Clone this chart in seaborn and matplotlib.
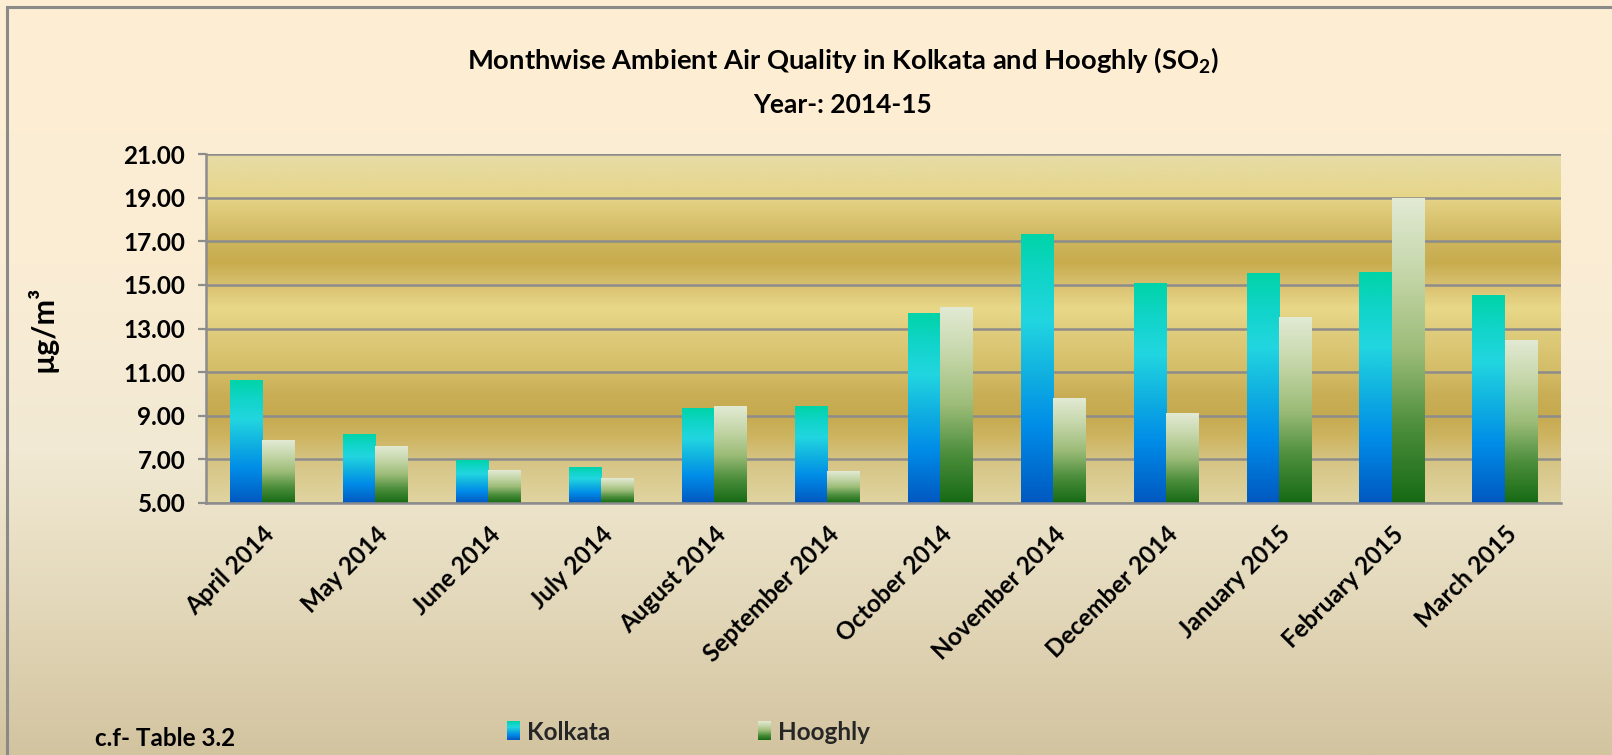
import numpy as np
import pandas as pd
import matplotlib
matplotlib.use("Agg")
import matplotlib.pyplot as plt
import seaborn as sns
from matplotlib.colors import LinearSegmentedColormap
from matplotlib.legend_handler import HandlerBase
from matplotlib.image import BboxImage
from matplotlib.transforms import Bbox, TransformedBbox
from matplotlib.patches import Rectangle, Patch

# ---------------- data ----------------
months = ["April 2014", "May 2014", "June 2014", "July 2014", "August 2014",
          "September 2014", "October 2014", "November 2014", "December 2014",
          "January 2015", "February 2015", "March 2015"]
kolkata = [10.62, 8.13, 6.94, 6.62, 9.32, 9.41, 13.67, 17.29, 15.05, 15.50, 15.55, 14.50]
hooghly = [7.85, 7.58, 6.48, 6.11, 9.41, 6.44, 13.95, 9.78, 9.09, 13.49, 18.94, 12.44]
series = ["Kolkata", "Hooghly"]
yticks = [5, 7, 9, 11, 13, 15, 17, 19, 21]
title = "Monthwise Ambient Air Quality in Kolkata and Hooghly (SO$_2$)"
subtitle = "Year-: 2014-15"
ylabel = "\u00b5g/m\u00b3"
note = "c.f- Table 3.2"

# ---------------- style ----------------
sns.set_theme(style="white")
plt.rcParams['font.family'] = ['Lato', 'DejaVu Sans']
plt.rcParams['font.weight'] = 'bold'
plt.rcParams['mathtext.fontset'] = 'custom'
plt.rcParams['mathtext.rm'] = 'Lato:bold'
plt.rcParams['mathtext.it'] = 'Lato:bold'
plt.rcParams['mathtext.bf'] = 'Lato:bold'

W, H = 1612, 755
fig = plt.figure(figsize=(W / 100, H / 100), dpi=100)

# figure background gradient
fig_cmap = LinearSegmentedColormap.from_list("figbg", [
    (0.0, "#D3C4A0"), (0.2, "#E3D8BA"), (0.4, "#F1E9D3"), (0.65, "#FBEDD5"), (1.0, "#FDEED3")])
bg = fig.add_axes([0, 0, 1, 1], zorder=-10)
bg.imshow(np.linspace(0, 1, 256).reshape(-1, 1), cmap=fig_cmap, aspect='auto',
          extent=[0, 1, 0, 1], origin='lower')
bg.set_xlim(0, 1); bg.set_ylim(0, 1)
bg.axis('off')
# chart border (top and left edges visible)
bg.add_patch(Rectangle((7 / W, -0.2), 1.5, 1.2 - 7 / H, fill=False,
                       edgecolor="#8A8A8A", lw=2.2, transform=bg.transAxes, clip_on=False))

# plot area
x0, x1, y0, y1 = 206, 1561, 154, 503
ax = fig.add_axes([x0 / W, 1 - y1 / H, (x1 - x0) / W, (y1 - y0) / H])

plot_cmap = LinearSegmentedColormap.from_list("plotbg", [
    (0.0, "#E0D4A0"), (0.12, "#D6C484"), (0.19, "#CDB460"), (0.25, "#C6AA50"),
    (0.31, "#C9AE55"), (0.375, "#D4BC66"), (0.5, "#E0CE7E"), (0.56, "#E8D888"),
    (0.625, "#D8C070"), (0.69, "#C8AC4E"), (0.75, "#CDB45C"), (0.86, "#E2CF80"),
    (0.88, "#E6D68A"), (1.0, "#E6DCA6")])
ax.imshow(np.linspace(0, 1, 512).reshape(-1, 1), cmap=plot_cmap, aspect='auto',
          extent=[0, 1, 0, 1], origin='lower', transform=ax.transAxes, zorder=0.1)

df = pd.DataFrame({
    "Month": months * 2,
    "City": [series[0]] * len(months) + [series[1]] * len(months),
    "Value": kolkata + hooghly,
})
sns.barplot(data=df, x="Month", y="Value", hue="City", order=months, hue_order=series,
            width=0.57, gap=0, ax=ax, legend=False, saturation=1,
            palette=["#18C8E0", "#9ABE78"], errorbar=None)

k_cmap = LinearSegmentedColormap.from_list("kol", [
    (0.0, "#0058C0"), (0.28, "#008CE8"), (0.5, "#12B4E0"), (0.68, "#22D6E0"),
    (0.85, "#10D4C8"), (1.0, "#00D4A8")])
h_cmap = LinearSegmentedColormap.from_list("hoo", [
    (0.0, "#166A14"), (0.25, "#4C8E3C"), (0.5, "#9CBC78"), (0.75, "#C4D6A8"),
    (1.0, "#E2EAD4")])
cmaps = [k_cmap, h_cmap]

grad = np.linspace(0, 1, 256).reshape(-1, 1)
for cont, cm in zip(ax.containers, cmaps):
    for p in cont:
        bx, bw, top = p.get_x(), p.get_width(), p.get_height()
        p.set_facecolor("none")
        p.set_edgecolor("none")
        ax.imshow(grad, cmap=cm, aspect='auto', origin='lower',
                  extent=[bx, bx + bw, yticks[0], top], zorder=2, interpolation='bilinear')

ax.set_xlim(-0.5, len(months) - 0.5)
ax.set_ylim(yticks[0], yticks[-1])
ax.set_aspect('auto')
ax.set_facecolor("none")

# grid and axes
ax.set_yticks(yticks)
ax.set_yticklabels([f"{v:.2f}" for v in yticks])
ax.yaxis.grid(True, color="#8C8C8C", lw=1.8)
ax.set_axisbelow(True)
for g in ax.yaxis.get_gridlines():
    g.set_zorder(0.5)
for s in ["top", "right"]:
    ax.spines[s].set_visible(False)
for s in ["left", "bottom"]:
    ax.spines[s].set_color("#8C8C8C")
    ax.spines[s].set_linewidth(1.8)
    ax.spines[s].set_zorder(3)

ax.set_xticks(range(len(months)))
ax.set_xticklabels(months, rotation=45, ha='right', rotation_mode='anchor')
ax.set_xticks(np.arange(-0.5, len(months), 1.0), minor=True)
ax.tick_params(axis='x', which='major', length=0, pad=14, labelsize=17.5, labelcolor='black')
ax.tick_params(axis='x', which='minor', length=8, width=1.6, color="#8C8C8C", direction='out')
ax.tick_params(axis='y', which='major', length=6, width=1.6, color="#8C8C8C", pad=9,
               labelsize=17.5, labelcolor='black', left=True)
for lab in ax.get_xticklabels() + ax.get_yticklabels():
    lab.set_fontweight('bold')

ax.set_xlabel("")
ax.set_ylabel(ylabel, fontsize=22, fontweight='bold', color='black')
ax.yaxis.set_label_coords((57 - x0) / (x1 - x0), 0.5)

# titles
fig.text(843 / W, 1 - 60 / H, title, ha='center', va='center', fontsize=19.7,
         fontweight='bold', color='black')
fig.text(843 / W, 1 - 105 / H, subtitle, ha='center', va='center', fontsize=19,
         fontweight='bold', color='black')
fig.text(95 / W, 17 / H, note, ha='left', va='center', fontsize=17.5,
         fontweight='bold', color='black')


# legend with gradient swatches
class GradHandler(HandlerBase):
    def __init__(self, cmap):
        super().__init__()
        self.cmap = cmap

    def create_artists(self, legend, orig_handle, xdescent, ydescent, width, height,
                       fontsize, trans):
        bb = TransformedBbox(Bbox.from_bounds(-xdescent, -ydescent, width, height), trans)
        img = BboxImage(bb, cmap=self.cmap, interpolation='bilinear', origin='lower')
        img.set_data(np.linspace(0, 1, 64).reshape(-1, 1))
        return [img]


handles = [Patch(label=series[0]), Patch(label=series[1])]
fig.legend(handles, series, handler_map={handles[0]: GradHandler(k_cmap),
                                         handles[1]: GradHandler(h_cmap)},
           loc='center left', bbox_to_anchor=(507 / W, 23 / H), ncol=2, frameon=False,
           columnspacing=6.1, handlelength=0.5, handleheight=0.8, handletextpad=0.32,
           prop={'size': 17.5, 'weight': 'bold'}, borderpad=0, borderaxespad=0)

fig.savefig("out.png", dpi=100)
